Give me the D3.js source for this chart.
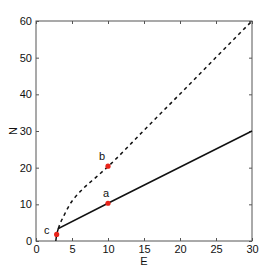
<!DOCTYPE html>
<html><head><meta charset="utf-8">
<script src="https://cdn.jsdelivr.net/npm/d3@7"></script>
<style>body{margin:0;background:#fff}svg{display:block}text{font-family:"Liberation Sans",Arial,sans-serif;font-size:11px;fill:#111}</style>
</head><body><svg id="c" width="278" height="272"></svg>
<script>
const solidE = [2.75, 2.87, 3.1, 10, 30];
const solidN = [0, 1.8, 3.4, 10.3, 30];
const dashE = [3.1, 3.4, 3.8, 4.2, 4.7, 5.5, 6.6, 8.4, 10, 15, 20, 25, 30];
const dashN = [3.4, 5.0, 6.6, 8.2, 10.0, 12.1, 14.4, 17.5, 20.3, 30.2, 40.1, 50.1, 60];
const ptE = [10, 10, 2.87];
const ptN = [10.3, 20.4, 1.8];
const ptLabel = ["a", "b", "c"];
const xTicks = [0, 5, 10, 15, 20, 25, 30];
const yTicks = [0, 10, 20, 30, 40, 50, 60];

const svg = d3.select("#c");
const x = d3.scaleLinear().domain([0, 30]).range([36, 252]);
const y = d3.scaleLinear().domain([0, 60]).range([241, 21]);
const axCol = "#555";

svg.append("rect").attr("x", 36).attr("y", 21).attr("width", 216).attr("height", 220)
  .attr("fill", "none").attr("stroke", axCol).attr("stroke-width", 1);

const gb = svg.append("g").attr("transform", "translate(0,241)")
  .call(d3.axisBottom(x).tickValues(xTicks).tickSize(-3).tickPadding(4));
const gt = svg.append("g").attr("transform", "translate(0,21)")
  .call(d3.axisTop(x).tickValues(xTicks).tickSize(-3).tickFormat(""));
const gl = svg.append("g").attr("transform", "translate(36,0)")
  .call(d3.axisLeft(y).tickValues(yTicks).tickSize(-3).tickPadding(4));
const gr = svg.append("g").attr("transform", "translate(252,0)")
  .call(d3.axisRight(y).tickValues(yTicks).tickSize(-3).tickFormat(""));
[gb, gt, gl, gr].forEach(g => {
  g.select(".domain").remove();
  g.selectAll("line").attr("stroke", axCol);
  g.selectAll("text").attr("fill", "#111").style("font-size", "11px").attr("font-family", null);
});

const line = d3.line().x(d => x(d[0])).y(d => y(d[1]));
svg.append("path").datum(solidE.map((e, i) => [e, solidN[i]])).attr("d", line)
  .attr("fill", "none").attr("stroke", "#111").attr("stroke-width", 1.5);
svg.append("path").datum(dashE.map((e, i) => [e, dashN[i]])).attr("d", d3.line().x(d => x(d[0])).y(d => y(d[1])).curve(d3.curveMonotoneX))
  .attr("fill", "none").attr("stroke", "#111").attr("stroke-width", 1.5).attr("stroke-dasharray", "3.5,3.5");

svg.selectAll("circle.p").data(ptE).join("circle").attr("class", "p")
  .attr("cx", (d) => x(d)).attr("cy", (d, i) => y(ptN[i])).attr("r", 2.6).attr("fill", "#e8241a");
const lblDx = [-2, -6, -10];
const lblDy = [-6, -6, 0];
svg.selectAll("text.l").data(ptLabel).join("text").attr("class", "l")
  .attr("x", (d, i) => x(ptE[i]) + lblDx[i]).attr("y", (d, i) => y(ptN[i]) + lblDy[i])
  .attr("text-anchor", "middle").text(d => d);

svg.append("text").attr("x", 144).attr("y", 265).attr("text-anchor", "middle").text("E");
svg.append("text").attr("transform", "translate(17,131) rotate(-90)").attr("text-anchor", "middle").text("N");
</script></body></html>
